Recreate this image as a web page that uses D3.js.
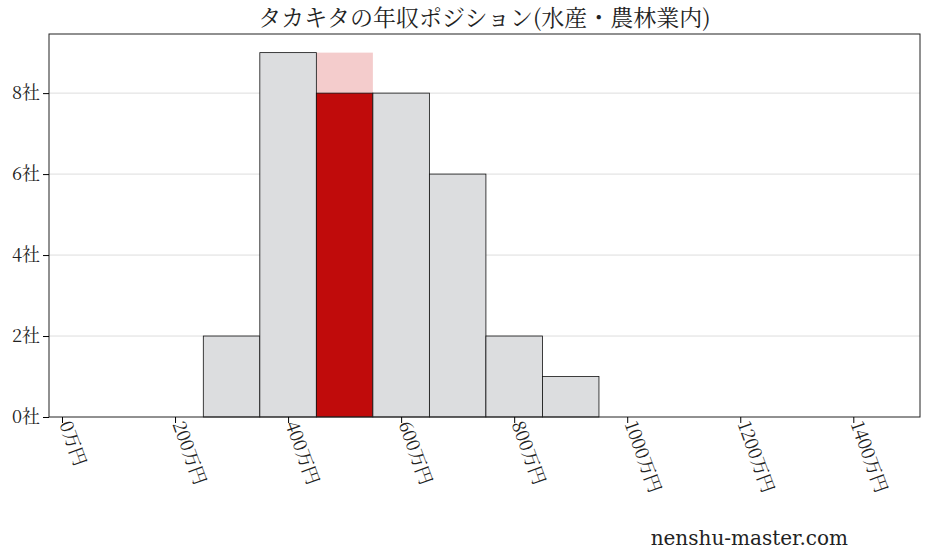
<!DOCTYPE html>
<html><head><meta charset="utf-8">
<script src="https://cdn.jsdelivr.net/npm/d3@7"></script>
<style>body{margin:0;background:#fff}</style></head>
<body><svg id="c" width="928" height="557"></svg>
<script>
const binStarts=[250,350,450,550,650,750,850];
const counts=[2,9,8,8,6,2,1];
const highlightIndex=2;
const highlightBackground=9;
const xTicks=[0,200,400,600,800,1000,1200,1400];
const yTicks=[0,2,4,6,8];
const title="タカキタの年収ポジション(水産・農林業内)";
const svg=d3.select("#c");
const L=49,R=920,T=34,B=417;
const x=d3.scaleLinear().domain([-23,1518]).range([L,R]);
const y=d3.scaleLinear().domain([0,9.46]).range([B,T]);
const font="'Noto Serif CJK JP','Noto Sans CJK JP',serif";
svg.append("g").selectAll("line").data(yTicks.slice(1)).join("line")
 .attr("x1",L).attr("x2",R).attr("y1",d=>y(d)).attr("y2",d=>y(d)).attr("stroke","#ddd");
svg.append("rect").attr("x",x(binStarts[highlightIndex])).attr("width",x(100)-x(0))
 .attr("y",y(highlightBackground)).attr("height",B-y(highlightBackground)).attr("fill","#f4cccc");
svg.append("g").selectAll("rect").data(counts).join("rect")
 .attr("x",(d,i)=>x(binStarts[i])).attr("width",x(100)-x(0))
 .attr("y",d=>y(d)).attr("height",d=>B-y(d))
 .attr("fill",(d,i)=>i===highlightIndex?"#c00b0b":"#dcdddf").attr("stroke","#111").attr("stroke-width",0.8);
svg.append("rect").attr("x",L).attr("y",T).attr("width",R-L).attr("height",B-T).attr("fill","none").attr("stroke","#222");
const xa=svg.append("g").attr("transform",`translate(0,${B})`).call(d3.axisBottom(x).tickValues(xTicks).tickFormat(d=>d+"万円").tickSizeOuter(0));
xa.select(".domain").remove();
xa.selectAll("text").attr("font-size",18).attr("font-family",font).attr("fill","#222")
 .attr("text-anchor","start").attr("transform","rotate(70)").attr("dx","0.3em").attr("dy","-0.2em");
const ya=svg.append("g").attr("transform",`translate(${L},0)`).call(d3.axisLeft(y).tickValues(yTicks).tickFormat(d=>d+"社").tickSizeOuter(0));
ya.select(".domain").remove();
ya.selectAll("text").attr("font-size",18).attr("font-family",font).attr("fill","#222");
svg.append("text").attr("x",(L+R)/2).attr("y",26).attr("text-anchor","middle")
 .attr("font-size",23).attr("font-family",font).attr("fill","#222").text(title);
svg.append("text").attr("x",848).attr("y",545).attr("text-anchor","end")
 .attr("font-size",20).attr("font-family","'DejaVu Serif',serif").attr("fill","#222").text("nenshu-master.com");
</script></body></html>
